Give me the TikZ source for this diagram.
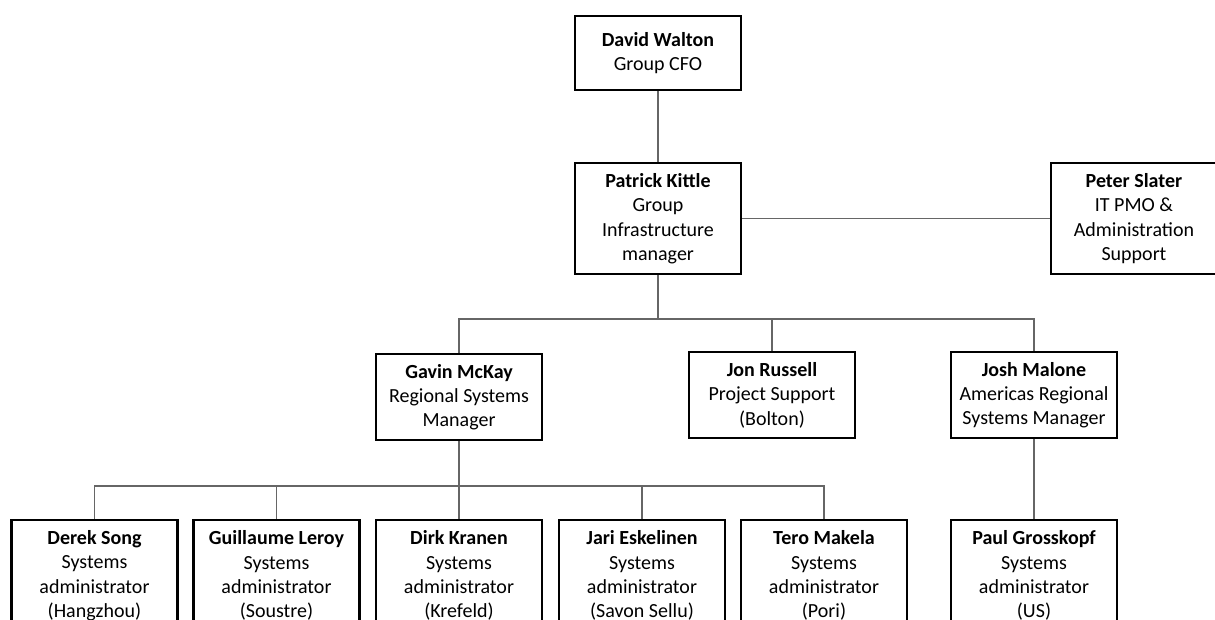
\documentclass[tikz,border=0pt]{standalone}
\usepackage{fontspec}
\setmainfont{Carlito}
\definecolor{linkgray}{HTML}{666666}
\begin{document}
\begin{tikzpicture}[x=1pt,y=-1pt,
  person/.style={draw=black, line width=2.2pt, minimum width=166pt, align=center,
    inner sep=0pt, anchor=north, font=\fontsize{20}{24.4}\selectfont},
  tallbox/.style={minimum height=111pt},
  midbox/.style={minimum height=86pt},
  shortbox/.style={minimum height=74pt},
  link/.style={draw=linkgray, line width=1.3pt}]
\useasboundingbox (0,0) rectangle (1215,619);
\clip (0,0) rectangle (1215,619);

% Management
\node[person,shortbox] (dw) at (658,15) {\textbf{David Walton}\\Group CFO};
\node[person,tallbox] (pk) at (658,162) {\textbf{Patrick Kittle}\\Group\\Infrastructure\\manager};
\node[person,tallbox] (ps) at (1134,162) {\textbf{Peter Slater}\\IT PMO \&\\Administration\\Support};

% Regional level
\node[person,midbox] (gm) at (459,353) {\textbf{Gavin McKay}\\Regional Systems\\Manager};
\node[person,midbox] (jr) at (772,351) {\textbf{Jon Russell}\\Project Support\\(Bolton)};
\node[person,midbox] (jm) at (1034,351) {\textbf{Josh Malone}\\Americas Regional\\Systems Manager};

% Systems administrators
\node[person,tallbox] (ds) at (94.5,519) {\textbf{Derek Song}\\Systems\\administrator\\(Hangzhou)};
\node[person,tallbox] (gl) at (276.5,519) {\textbf{Guillaume Leroy}\\Systems\\administrator\\(Soustre)};
\node[person,tallbox] (dk) at (459,519) {\textbf{Dirk Kranen}\\Systems\\administrator\\(Krefeld)};
\node[person,tallbox] (je) at (642,519) {\textbf{Jari Eskelinen}\\Systems\\administrator\\(Savon Sellu)};
\node[person,tallbox] (tm) at (824,519) {\textbf{Tero Makela}\\Systems\\administrator\\(Pori)};
\node[person,tallbox] (pg) at (1034,519) {\textbf{Paul Grosskopf}\\Systems\\administrator\\(US)};

% Reporting lines
\coordinate (busA) at (658,319);
\coordinate (busB) at (459,486);
\draw[link] (dw.south) -- (pk.north);
\draw[link] (pk.east) -- (ps.west);
\draw[link] (pk.south) -- (busA);
\draw[link] (gm.north) |- (busA) -| (jm.north);
\draw[link] (jr.north) -- (jr.north |- busA);
\draw[link] (gm.south) -- (dk.north);
\draw[link] (ds.north) |- (busB) -| (tm.north);
\draw[link] (gl.north) -- (gl.north |- busB);
\draw[link] (je.north) -- (je.north |- busB);
\draw[link] (jm.south) -- (pg.north);
\end{tikzpicture}
\end{document}
